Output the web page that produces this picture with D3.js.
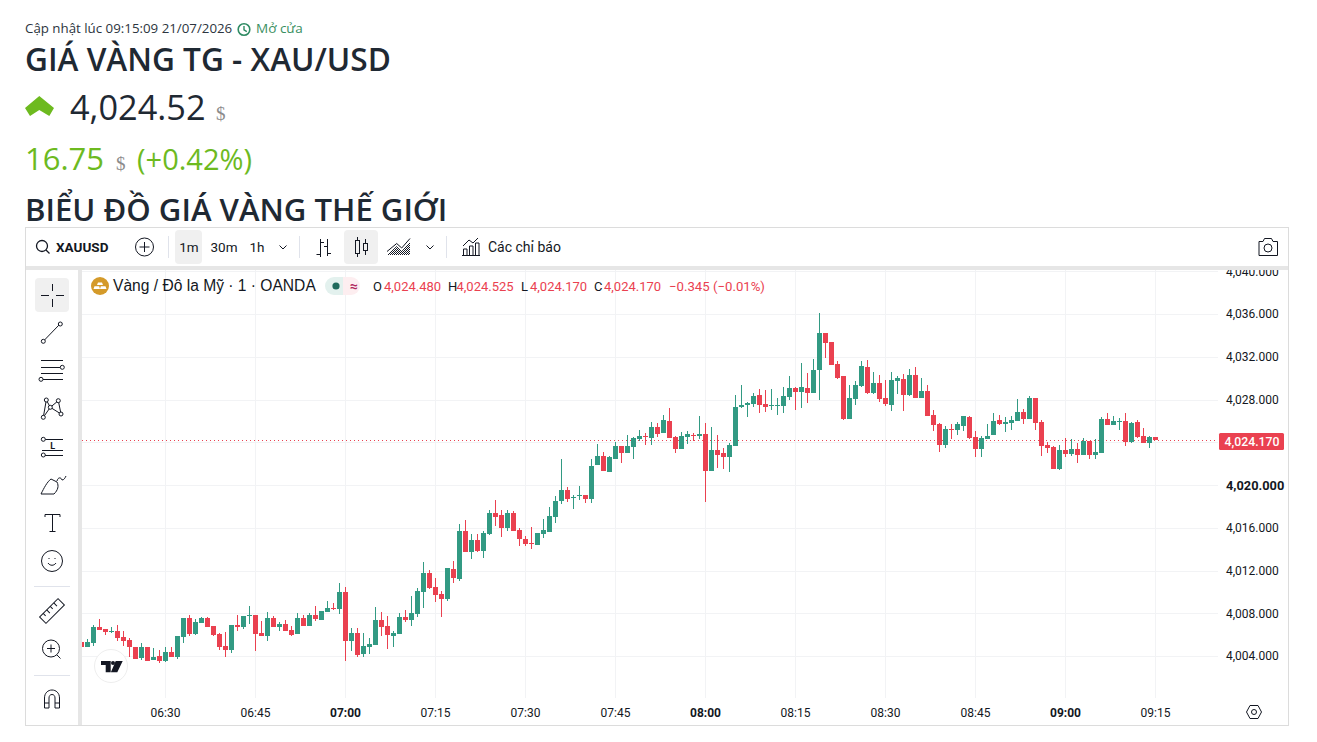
<!DOCTYPE html>
<html lang="vi">
<head>
<meta charset="utf-8">
<title>Giá vàng TG - XAU/USD</title>
<script src="https://cdn.jsdelivr.net/npm/d3@7"></script>
<style>
  html, body { margin: 0; padding: 0; background: #fff; overflow: hidden; }
  svg { display: block; }
  .head { font-family: "Open Sans", sans-serif; }
  .ui { font-family: Roboto, sans-serif; }
  .sym { font-family: "Liberation Sans", Arial, sans-serif; }
  .unit { font-family: "Liberation Serif", serif; }
</style>
</head>
<body>
<svg id="chart" width="1317" height="742"></svg>
<script>
// One-minute candles for XAU/USD, 06:16 through 09:15.
const firstMinute = "2026-07-21T06:16:00Z";

const openPrices = [
  4005.31,4004.84,4005.22,4006.71,4006.52,4006.24,4006.34,4005.78,4005.50,4004.84,
  4003.81,4004.84,4003.63,4004.00,4003.53,4004.37,4003.91,4005.78,4007.56,4006.06,
  4007.09,4007.56,4006.81,4006.06,4004.93,4004.56,4006.90,4006.71,4007.74,4007.84,
  4006.15,4005.87,4007.56,4006.71,4006.99,4006.43,4006.06,4007.56,4006.81,4007.84,
  4007.37,4008.12,4008.49,4008.40,4009.99,4005.41,4006.15,4004.19,4004.84,4005.03,
  4007.37,4006.81,4005.87,4006.06,4007.65,4007.37,4007.93,4009.99,4011.77,4010.46,
  4009.80,4009.33,4012.14,4011.20,4015.70,4013.73,4014.85,4013.83,4015.42,4017.38,
  4017.19,4015.98,4017.38,4015.79,4014.95,4014.57,4014.39,4015.42,4015.60,4017.01,
  4018.50,4019.53,4018.78,4018.97,4019.06,4018.69,4021.87,4022.71,4021.22,4022.43,
  4023.65,4022.99,4023.56,4024.30,4024.59,4024.40,4025.43,4024.87,4025.98,4024.49,
  4023.37,4024.49,4024.68,4024.59,4024.77,4021.31,4023.27,4022.99,4022.62,4023.65,
  4027.30,4027.49,4027.58,4028.42,4027.58,4027.39,4027.39,4027.39,4028.23,4029.08,
  4028.70,4029.08,4028.61,4030.76,4034.22,4033.38,4031.32,4030.20,4026.18,4028.05,
  4029.26,4031.04,4028.61,4029.54,4028.14,4027.49,4029.73,4029.92,4028.42,4030.29,
  4028.14,4028.80,4026.55,4025.71,4023.75,4025.24,4025.15,4025.52,4026.36,4024.49,
  4023.37,4024.30,4024.68,4026.08,4025.71,4025.80,4025.98,4026.83,4026.18,4028.14,
  4025.89,4023.75,4023.56,4021.50,4023.27,4022.90,4023.37,4022.81,4024.12,4022.81,
  4022.99,4026.18,4025.61,4025.89,4025.98,4024.02,4025.89,4024.59,4023.93,4024.48
];
const highPrices = [
  4005.31,4005.59,4006.90,4007.46,4006.52,4006.71,4006.90,4006.34,4005.68,4004.84,
  4005.22,4004.84,4004.75,4004.56,4004.84,4004.84,4005.87,4007.56,4007.84,4007.46,
  4007.65,4007.65,4006.81,4006.15,4006.24,4006.90,4007.84,4007.74,4008.68,4007.84,
  4007.27,4008.12,4007.74,4007.18,4007.37,4006.81,4008.02,4007.84,4008.02,4008.68,
  4008.21,4009.15,4008.96,4010.83,4010.46,4006.62,4006.62,4006.15,4005.68,4008.58,
  4008.12,4007.74,4006.34,4008.02,4008.30,4009.61,4010.36,4012.79,4012.05,4011.30,
  4010.08,4012.24,4012.89,4016.35,4016.73,4015.42,4015.42,4015.70,4017.66,4018.60,
  4017.66,4017.66,4017.57,4015.98,4015.23,4016.07,4015.51,4016.82,4017.94,4018.97,
  4022.43,4019.81,4019.06,4019.90,4019.06,4022.43,4023.84,4023.09,4022.71,4024.02,
  4023.65,4024.68,4024.49,4025.15,4024.87,4025.89,4025.80,4026.55,4027.20,4024.59,
  4024.96,4025.05,4024.87,4026.45,4025.80,4025.43,4024.68,4023.46,4023.93,4028.42,
  4029.36,4027.77,4028.61,4028.98,4028.89,4028.98,4028.14,4029.17,4030.20,4029.17,
  4031.42,4030.48,4031.79,4036.09,4034.22,4033.38,4031.60,4030.20,4029.36,4029.73,
  4031.60,4031.70,4030.57,4030.29,4029.82,4030.57,4030.20,4030.39,4030.85,4031.04,
  4030.01,4029.36,4027.02,4025.80,4025.52,4025.71,4025.89,4026.45,4026.45,4025.05,
  4024.59,4025.71,4026.73,4026.55,4026.36,4026.45,4028.05,4027.11,4028.33,4028.14,
  4026.08,4024.02,4023.65,4023.75,4024.40,4024.30,4023.93,4024.40,4024.12,4024.30,
  4026.36,4026.73,4026.45,4026.27,4026.73,4025.89,4026.08,4025.33,4024.59,4024.525
];
const lowPrices = [
  4004.84,4004.84,4004.93,4006.43,4005.96,4006.15,4005.41,4004.93,4003.91,4003.72,
  4003.63,4003.53,4003.63,4003.35,4003.44,4003.91,4003.72,4005.22,4005.87,4005.96,
  4007.09,4006.71,4005.87,4004.56,4003.91,4004.28,4006.34,4006.52,4006.99,4004.47,
  4005.87,4005.41,4006.71,4006.34,4006.34,4005.87,4006.06,4006.81,4006.81,4007.27,
  4007.37,4008.12,4008.30,4007.93,4003.53,4004.47,4003.91,4003.91,4004.19,4005.03,
  4005.87,4004.65,4004.84,4006.06,4007.18,4006.81,4007.65,4008.49,4010.27,4009.05,
  4007.65,4009.15,4010.83,4011.02,4013.73,4013.08,4013.73,4013.17,4015.32,4016.16,
  4015.13,4015.70,4015.70,4014.29,4014.29,4014.01,4014.39,4015.04,4015.60,4016.45,
  4018.22,4018.41,4017.75,4018.60,4018.32,4018.32,4021.87,4021.31,4021.22,4022.43,
  4022.06,4022.99,4022.43,4024.12,4023.75,4023.75,4024.49,4024.87,4024.40,4022.99,
  4023.37,4023.84,4024.12,4024.30,4018.41,4021.31,4021.59,4021.50,4021.22,4023.65,
  4027.20,4026.36,4027.30,4026.73,4026.83,4027.02,4026.55,4026.73,4027.95,4027.02,
  4027.20,4027.67,4028.61,4027.95,4031.89,4031.23,4029.92,4026.08,4026.18,4027.49,
  4029.17,4028.51,4028.51,4027.77,4027.39,4026.92,4028.51,4026.92,4028.33,4028.14,
  4028.14,4026.45,4025.05,4023.09,4023.46,4024.30,4024.68,4025.05,4024.30,4022.62,
  4022.62,4024.30,4024.68,4025.61,4024.96,4025.15,4025.98,4025.71,4026.18,4025.15,
  4022.71,4022.99,4021.50,4021.40,4022.62,4022.71,4022.06,4022.81,4022.43,4022.43,
  4022.99,4025.61,4025.61,4025.15,4023.65,4023.93,4024.40,4023.93,4023.46,4024.17
];
const closePrices = [
  4004.84,4005.31,4006.71,4006.43,4006.24,4006.34,4005.68,4005.41,4004.84,4003.72,
  4004.84,4003.53,4003.91,4003.53,4004.37,4003.91,4005.87,4007.56,4006.06,4007.18,
  4007.56,4006.71,4005.96,4004.84,4004.56,4006.90,4006.71,4007.74,4007.84,4006.06,
  4005.87,4007.56,4006.71,4006.99,4006.34,4005.96,4007.56,4006.81,4007.84,4007.46,
  4008.21,4008.49,4008.40,4009.99,4005.41,4006.15,4004.09,4004.93,4005.12,4007.37,
  4006.71,4005.96,4006.15,4007.65,4007.37,4008.02,4010.08,4011.77,4010.36,4009.71,
  4009.33,4012.24,4011.30,4015.70,4013.73,4014.85,4013.83,4015.51,4017.38,4017.01,
  4015.98,4017.38,4015.70,4014.95,4014.48,4014.48,4015.51,4015.79,4017.10,4018.50,
  4019.53,4018.69,4018.88,4019.06,4018.69,4021.78,4022.71,4021.31,4022.62,4023.65,
  4022.99,4023.65,4024.40,4024.59,4024.49,4025.43,4024.77,4026.08,4024.40,4023.37,
  4024.59,4024.77,4024.59,4024.77,4021.31,4023.27,4022.81,4022.62,4023.75,4027.30,
  4027.49,4027.67,4028.33,4027.49,4027.30,4027.49,4027.49,4028.33,4029.08,4028.70,
  4029.17,4028.61,4030.76,4034.22,4033.29,4031.23,4030.01,4026.18,4028.14,4029.36,
  4031.13,4028.61,4029.54,4028.05,4027.58,4029.82,4030.01,4028.42,4030.29,4028.14,
  4028.80,4026.45,4025.61,4023.75,4025.24,4025.15,4025.71,4026.45,4024.40,4023.37,
  4024.40,4024.59,4025.98,4025.71,4025.89,4026.08,4026.83,4026.18,4028.14,4025.80,
  4023.65,4023.46,4021.50,4023.27,4022.90,4023.37,4022.81,4024.12,4022.81,4023.09,
  4026.18,4025.61,4025.98,4025.98,4024.02,4025.80,4024.49,4023.93,4024.49,4024.17
];

const priceTicks = [4004, 4008, 4012, 4016, 4020, 4024, 4028, 4032, 4036, 4040];
const timeTicks = ["06:30", "06:45", "07:00", "07:15", "07:30", "07:45", "08:00",
                   "08:15", "08:30", "08:45", "09:00", "09:15"];
const lastPrice = 4024.17;
const legendValues = ["4,024.480", "4,024.525", "4,024.170", "4,024.170"];
const legendKeys = ["O", "H", "L", "C"];
const intervals = ["1m", "30m", "1h"];

const UP = "#329a83", DOWN = "#ea4150", INK = "#131722", GRID = "#f2f3f5", RULE = "#e6e6e6";

const svg = d3.select("#chart");
const minute = t => new Date(Date.parse(firstMinute) + t * 60000);
const tickDate = s => new Date(`2026-07-21T${s}:00Z`);

// Plot scales
const x = d3.scaleTime()
  .domain([minute(0), minute(openPrices.length - 1)])
  .range([81.5, 1155.5]);
const y = d3.scaleLinear().domain([4004, 4036]).range([656, 314]);
const py = v => Math.round(y(v));

const text = (parent, str, px, pyy, size, opts = {}) =>
  parent.append("text").attr("x", px).attr("y", pyy)
    .attr("font-size", size).attr("fill", opts.fill || INK)
    .attr("font-weight", opts.weight || 400)
    .attr("class", opts.cls || "ui")
    .attr("text-anchor", opts.anchor || "start")
    .text(str);

// Page heading
const head = svg.append("g");
text(head, "Cập nhật lúc 09:15:09 21/07/2026", 25, 33, 13.3, { cls: "head", fill: "#2c3540" });
head.append("circle").attr("cx", 244).attr("cy", 29.5).attr("r", 5.8)
  .attr("fill", "none").attr("stroke", "#2e8b63").attr("stroke-width", 1.6);
head.append("path").attr("d", "M244 26V29.8L246.8 31.6").attr("fill", "none")
  .attr("stroke", "#2e8b63").attr("stroke-width", 1.4);
text(head, "Mở cửa", 256, 33, 13.5, { cls: "head", fill: "#3a8f5f" });
text(head, "GIÁ VÀNG TG - XAU/USD", 25, 71, 31.6, { cls: "head", weight: 600, fill: "#1f2933" });
head.append("path").attr("d", "M25 108L39.3 96L54 108L49.3 116L39.3 110L30 116Z").attr("fill", "#6dba1f");
text(head, "4,024.52", 70, 120, 34.3, { cls: "head", fill: "#1f2933" });
text(head, "$", 216, 120, 19, { cls: "unit", fill: "#8b8b8b" });
text(head, "16.75", 25, 170, 31, { cls: "head", fill: "#6dba1f" });
text(head, "$", 116, 170, 19, { cls: "unit", fill: "#8b8b8b" });
text(head, "(+0.42%)", 137, 170, 29, { cls: "head", fill: "#6dba1f" });
text(head, "BIỂU ĐỒ GIÁ VÀNG THẾ GIỚI", 25, 221, 31.1, { cls: "head", weight: 600, fill: "#1f2933" });

// Widget frame
const frame = svg.append("g");
frame.append("rect").attr("x", 25.5).attr("y", 227.5).attr("width", 1263).attr("height", 498)
  .attr("fill", "#fff").attr("stroke", "#dcdcdc");
frame.append("rect").attr("x", 26).attr("y", 266).attr("width", 1262).attr("height", 4).attr("fill", RULE);
frame.append("rect").attr("x", 78).attr("y", 270).attr("width", 4).attr("height", 455).attr("fill", RULE);

// Grid lines
const plot = svg.append("g");
plot.selectAll(".hgrid").data(priceTicks).join("line").attr("class", "hgrid")
  .attr("x1", 82).attr("x2", 1218)
  .attr("y1", d => py(d) + 0.5).attr("y2", d => py(d) + 0.5)
  .attr("stroke", GRID);
plot.selectAll(".vgrid").data(timeTicks).join("line").attr("class", "vgrid")
  .attr("x1", d => x(tickDate(d))).attr("x2", d => x(tickDate(d)))
  .attr("y1", 270).attr("y2", 698).attr("stroke", GRID);

// Dotted line at the last traded price
plot.append("line").attr("x1", 82).attr("x2", 1218)
  .attr("y1", py(lastPrice) + 0.5).attr("y2", py(lastPrice) + 0.5)
  .attr("stroke", DOWN).attr("stroke-dasharray", "1 3")
  .attr("shape-rendering", "crispEdges");

// Candles
svg.append("clipPath").attr("id", "plot-clip").append("rect")
  .attr("x", 82).attr("y", 270).attr("width", 1136).attr("height", 428);
const candles = svg.append("g").attr("clip-path", "url(#plot-clip)");
const series = openPrices.map((o, i) => ({
  t: minute(i), o, h: highPrices[i], l: lowPrices[i], c: closePrices[i]
}));
const tint = d => d.c >= d.o ? UP : DOWN;
candles.selectAll(".wick").data(series).join("rect").attr("class", "wick")
  .attr("x", d => x(d.t) - 0.5).attr("width", 1)
  .attr("y", d => py(d.h)).attr("height", d => Math.max(1, py(d.l) - py(d.h)))
  .attr("fill", tint);
candles.selectAll(".body").data(series).join("rect").attr("class", "body")
  .attr("x", d => x(d.t) - 2.5).attr("width", 5)
  .attr("y", d => py(Math.max(d.o, d.c)))
  .attr("height", d => Math.max(1, py(Math.min(d.o, d.c)) - py(Math.max(d.o, d.c))))
  .attr("fill", tint);

// Price axis, clipped under the toolbar rule
svg.append("clipPath").attr("id", "axis-clip").append("rect")
  .attr("x", 1218).attr("y", 270).attr("width", 70).attr("height", 450);
const priceAxis = svg.append("g").attr("class", "ui")
  .attr("clip-path", "url(#axis-clip)")
  .append("g").attr("transform", "translate(1226,0)")
  .call(d3.axisRight(y).tickValues(priceTicks).tickSize(0).tickPadding(0).tickFormat(d3.format(",.3f")));
priceAxis.select(".domain").remove();
priceAxis.selectAll("text").attr("font-family", "Roboto, sans-serif")
  .attr("font-size", d => d === 4020 ? 12.8 : 12)
  .attr("fill", INK).attr("font-weight", d => d === 4020 ? 700 : 400);

// Tag carrying the last price
svg.append("rect").attr("x", 1219).attr("y", 433).attr("width", 65).attr("height", 17)
  .attr("rx", 1.5).attr("fill", DOWN);
text(svg, d3.format(",.3f")(lastPrice), 1252, 445.5, 12.3, { fill: "#fff", anchor: "middle", weight: 500 });

// Time axis
const timeAxis = svg.append("g").attr("transform", "translate(0,708)")
  .call(d3.axisBottom(x).offset(0).tickValues(timeTicks.map(tickDate)).tickSize(0).tickPadding(0)
    .tickFormat(d3.utcFormat("%H:%M")));
timeAxis.select(".domain").remove();
timeAxis.selectAll("text").attr("font-size", 12).attr("font-family", "Roboto, sans-serif")
  .attr("fill", INK).attr("font-weight", d => d.getUTCMinutes() === 0 ? 700 : 400);

// Legend row
const legend = svg.append("g");
legend.append("circle").attr("cx", 100).attr("cy", 286).attr("r", 9).attr("fill", "#d49a2a");
legend.append("path").attr("d", "M98 282.5H102L103 285H97ZM94.5 286.2H99.2L100 289H93.5ZM100.8 286.2H105.5L106.5 289H100Z")
  .attr("fill", "#fff");
text(legend, "Vàng / Đô la Mỹ · 1 · OANDA", 113, 291, 15.6, { cls: "sym" });
legend.append("path").attr("d", "M334 277H343V295H334A9 9 0 0 1 334 277Z").attr("fill", "#e3f1ee");
legend.append("path").attr("d", "M343 277H351A9 9 0 0 1 351 295H343Z").attr("fill", "#fdeef0");
legend.append("circle").attr("cx", 336).attr("cy", 286).attr("r", 3.6).attr("fill", "#1f6b5d");
text(legend, "≈", 354, 291, 14, { anchor: "middle", fill: "#b0275c", weight: 700 });
const legendKeyX = [373, 448, 521, 594];
const legendValueX = [384, 456.5, 530, 604];
legendKeys.forEach((k, i) => {
  text(legend, k, legendKeyX[i], 291, 13);
  text(legend, legendValues[i], legendValueX[i], 291, 13, { fill: DOWN });
});
text(legend, "−0.345 (−0.01%)", 669, 291, 13.2, { fill: DOWN });

// Top toolbar
const defs = svg.append("defs");
const hatch = defs.append("pattern").attr("id", "area-hatch").attr("width", 2).attr("height", 2)
  .attr("patternUnits", "userSpaceOnUse");
hatch.append("rect").attr("width", 1).attr("height", 1).attr("fill", INK);
hatch.append("rect").attr("x", 1).attr("y", 1).attr("width", 1).attr("height", 1).attr("fill", INK);

const bar = svg.append("g").attr("fill", "none").attr("stroke", INK);
const sep = (g, x1, y1, x2, y2) => g.append("line").attr("x1", x1).attr("y1", y1).attr("x2", x2).attr("y2", y2)
  .attr("stroke", "#e0e3eb");
bar.append("circle").attr("cx", 42).attr("cy", 246).attr("r", 5.5).attr("stroke-width", 1.3);
bar.append("path").attr("d", "M46 250L49.5 253.5").attr("stroke-width", 1.3);
text(svg, "XAUUSD", 56, 251.5, 13.5, { weight: 700 });
bar.append("circle").attr("cx", 144.5).attr("cy", 247).attr("r", 9);
bar.append("path").attr("d", "M144.5 242V252M139.5 247H149.5");
sep(bar, 168.5, 236, 168.5, 258);
bar.append("rect").attr("x", 175).attr("y", 230).attr("width", 27).attr("height", 34).attr("rx", 4)
  .attr("fill", "#f0f0f0").attr("stroke", "none");
[189, 224, 257].forEach((cx, i) => text(svg, intervals[i], cx, 252, 13.5, { anchor: "middle" }));
bar.append("path").attr("d", "M279.5 245.5L283 249L286.5 245.5");
sep(bar, 299.5, 236, 299.5, 258);
bar.append("path").attr("d", "M320.5 239V257M316.5 254.5H320.5M320.5 242.5H324M327.5 239V256M324 246.5H327.5M327.5 253.5H331");
bar.append("rect").attr("x", 344).attr("y", 230).attr("width", 34).attr("height", 34).attr("rx", 4)
  .attr("fill", "#f0f0f0").attr("stroke", "none");
bar.append("path").attr("d", "M357.5 237V241M357.5 253V257M365.5 239V243M365.5 251V255");
bar.append("rect").attr("x", 355.5).attr("y", 240.5).attr("width", 4).attr("height", 13);
bar.append("rect").attr("x", 363.5).attr("y", 243.5).attr("width", 4).attr("height", 7);
bar.append("path").attr("d", "M387 251.5L396.7 243.5L401.7 248L410 238.5");
bar.append("path").attr("d", "M387 255L396.7 246L401.7 251L410 241.5V255Z").attr("fill", "url(#area-hatch)").attr("stroke", "none");
bar.append("path").attr("d", "M426.5 245.5L430 249L433.5 245.5");
sep(bar, 446.5, 236, 446.5, 258);
bar.append("path").attr("d", "M462 255.5H480M463.5 255V249H467V255M469.5 255V246H473V255M475.5 255V243H479V255M463 246L469 240L473 243L478 238");
text(svg, "Các chỉ báo", 488, 252, 14);
bar.append("path").attr("d", "M1259 241.5H1263L1264.5 238.5H1271.5L1273 241.5H1277.5V255.5H1259Z").attr("stroke-linejoin", "round");
bar.append("circle").attr("cx", 1268).attr("cy", 248).attr("r", 4);

// Left drawing tools
const tools = svg.append("g").attr("fill", "none").attr("stroke", INK).attr("stroke-width", 1);
const dot = (cx, cy) => tools.append("circle").attr("cx", cx).attr("cy", cy).attr("r", 2).attr("fill", "#fff");
tools.append("rect").attr("x", 35).attr("y", 278).attr("width", 34).attr("height", 34).attr("rx", 4)
  .attr("fill", "#f0f0f0").attr("stroke", "none");
tools.append("path").attr("d", "M52.5 284V291M52.5 299V307M41 295.5H49M56 295.5H64");
tools.append("path").attr("d", "M44.5 340L59 325");
dot(43.3, 341.3); dot(60.3, 324);
tools.append("path").attr("d", "M41 360.5H63M41 367.5H60M41 373.5H63M43 379.5H63");
dot(62.3, 367.3); dot(41, 379.3);
tools.append("path").attr("d", "M46.3 400L43.3 417.3L50.3 407.3L46.3 400M50.3 407.3L58.3 400.7L61 414L50.3 407.3");
[[46.3, 400], [58.3, 400.7], [43.3, 417.3], [61, 414], [50.3, 407.3]].forEach(p => dot(p[0], p[1]));
tools.append("path").attr("d", "M45 439.5H63M42 450.5H63M45 455.5H63");
dot(43.3, 439.3); dot(43.3, 455);
text(svg, "L", 52.7, 449, 9, { anchor: "middle", weight: 700 });
tools.append("path").attr("d", "M41 494H54C58 490 59 486 57 482L51 479C47 482 44 488 41 494ZM57 481C58 477 61 477 62 480C64 480 65 478 66 476");
tools.append("path").attr("d", "M45 514.5H60M45 514.5V517M60 514.5V517M52.5 514.5V531.5M49.5 531.5H55.5");
tools.append("circle").attr("cx", 52).attr("cy", 561).attr("r", 10.5);
tools.append("path").attr("d", "M48 563C50 566 54 566 56 563M49 558V559M55 558V559");
sep(tools, 34, 586.5, 70, 586.5);
tools.append("g").attr("transform", "translate(52,611) rotate(-45)")
  .call(g => {
    g.append("rect").attr("x", -13).attr("y", -4.5).attr("width", 26).attr("height", 9);
    g.append("path").attr("d", "M-8 -4.5V-1M-3 -4.5V0M2 -4.5V-1M7 -4.5V0");
  });
tools.append("circle").attr("cx", 51).attr("cy", 648.5).attr("r", 8.5);
tools.append("path").attr("d", "M57 655L60.5 658.5M47 648.5H55M51 644.5V652.5");
sep(tools, 34, 675.5, 70, 675.5);
tools.append("path").attr("d", "M44.5 708V698C44.5 693 48 690 52 690C56 690 59.5 693 59.5 698V708H55V698C55 696 54 694.5 52 694.5C50 694.5 49 696 49 698V708ZM44.5 703H49M55 703H59.5");

// Maker badge and axis settings
svg.append("circle").attr("cx", 111).attr("cy", 666).attr("r", 16.5).attr("fill", "#fff").attr("stroke", "#eeeeee");
svg.append("path").attr("d", "M101 661H110.7V672.3H105.7V665H101ZM115.7 661H122.7L117.3 672.3H110.9Z").attr("fill", INK);
svg.append("circle").attr("cx", 113).attr("cy", 663).attr("r", 2).attr("fill", INK);
svg.append("path").attr("d", "M1250 705.5H1258L1261.5 712L1258 718.5H1250L1246.5 712Z").attr("fill", "none").attr("stroke", INK);
svg.append("circle").attr("cx", 1254).attr("cy", 712).attr("r", 2.5).attr("fill", "none").attr("stroke", INK);
</script>
</body>
</html>
